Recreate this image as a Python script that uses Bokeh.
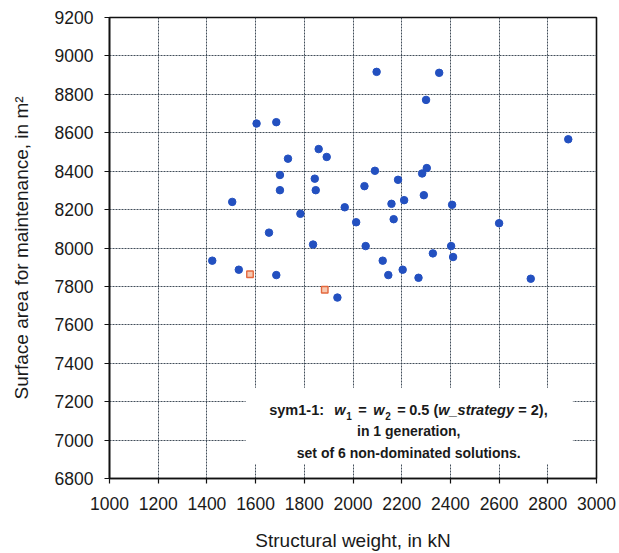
from bokeh.plotting import figure
from bokeh.models import FixedTicker, Label, BoxAnnotation, Range1d
from bokeh.embed import file_html
from bokeh.resources import INLINE

# Candidate designs of the population: structural weight (kN) vs surface area (m^2)
weight_kn = [1604, 1685, 1859, 1892, 1733, 1700, 1843, 1700, 1847, 1504,
             1784, 1966, 2013, 1655, 1836, 1422, 1531, 1685, 1936, 2097,
             2354, 2300, 2884, 2090, 2303, 2284, 2047, 2185, 2291, 2158,
             2210, 2407, 2167, 2600, 2052, 2403, 2328, 2411, 2122, 2204,
             2145, 2269, 2730]
area_m2 = [8648, 8655, 8515, 8474, 8465, 8380, 8361, 8301, 8301, 8240,
           8178, 8212, 8134, 8080, 8018, 7934, 7887, 7859, 7742, 8917,
           8912, 8771, 8566, 8402, 8416, 8388, 8322, 8355, 8275, 8230,
           8249, 8225, 8150, 8129, 8010, 8010, 7972, 7953, 7934, 7887,
           7859, 7845, 7840]

# Highlighted solutions
nd_weight_kn = [1577, 1884]
nd_area_m2 = [7863, 7783]

x_ticks = [1000, 1200, 1400, 1600, 1800, 2000, 2200, 2400, 2600, 2800, 3000]
y_ticks = [6800, 7000, 7200, 7400, 7600, 7800, 8000, 8200, 8400, 8600, 8800, 9000, 9200]

FONT = "Liberation Sans"
INK = "#1a1a1a"

p = figure(width=619, height=553, output_backend="svg", toolbar_location=None,
           x_range=Range1d(1000, 3000), y_range=Range1d(6800, 9200),
           min_border_left=109, min_border_right=23, min_border_top=17,
           min_border_bottom=75, background_fill_color="white",
           border_fill_color="white")

p.outline_line_color = "#111111"
p.outline_line_width = 1.6

for ax, ticks in ((p.xaxis[0], x_ticks), (p.yaxis[0], y_ticks)):
    ax.ticker = FixedTicker(ticks=ticks, minor_ticks=[])
    ax.axis_line_color = "#111111"
    ax.axis_line_width = 1.6
    ax.major_tick_line_color = "#111111"
    ax.major_tick_line_width = 1.2
    ax.major_tick_out = 5
    ax.major_tick_in = 0
    ax.minor_tick_line_color = None
    ax.major_label_text_font = FONT
    ax.major_label_text_font_size = "17.5px"
    ax.major_label_text_color = INK
    ax.axis_label_text_font = FONT
    ax.axis_label_text_font_size = "19px"
    ax.axis_label_text_font_style = "normal"
    ax.axis_label_text_color = INK

p.xaxis.axis_label = "Structural weight, in kN"
p.yaxis.axis_label = "Surface area for maintenance, in m\u00b2"
p.xaxis.major_label_standoff = 13
p.yaxis.major_label_standoff = 11
p.xaxis.axis_label_standoff = 17
p.yaxis.axis_label_standoff = 20

p.grid.grid_line_color = "#2e3b48"
p.grid.grid_line_width = 1
p.grid.grid_line_dash = "2 1"
p.grid.grid_line_alpha = 0.9

p.scatter(weight_kn, area_m2, marker="circle", size=7.5,
          fill_color="#2350c0", line_color="#2350c0")
p.scatter(nd_weight_kn, nd_area_m2, marker="square", size=6.5,
          fill_color="#f7c8b0", line_color="#e4683e", line_width=1.4)

# White panel behind the caption
p.add_layout(BoxAnnotation(left=1559, right=2903, bottom=6876, top=7273,
                           fill_color="white", fill_alpha=1.0,
                           line_alpha=0, level="annotation"))

# First caption line, built from pieces (italic symbols and subscripts)
line1_x, line1_y = 1656, 7158
pieces = [
    ("sym1-1:", "bold", 0, 0, "14.5px"),
    ("w", "bold italic", 65, 0, "14.5px"),
    ("1", "bold", 77, -6, "10px"),
    ("=", "bold", 89, 0, "14.5px"),
    ("w", "bold italic", 104, 0, "14.5px"),
    ("2", "bold", 116, -6, "10px"),
    ("=", "bold", 128, 0, "14.5px"),
    ("0.5 (", "bold", 140, 0, "14.5px"),
    ("w_strategy", "bold italic", 169, 0, "14.5px"),
    ("= 2),", "bold", 249, 0, "14.5px"),
]
for txt, style, dx, dy, size in pieces:
    p.add_layout(Label(x=line1_x, y=line1_y, x_offset=dx, y_offset=dy, text=txt,
                       text_font=FONT, text_font_style=style, text_font_size=size,
                       text_color=INK, text_align="left",
                       text_baseline="alphabetic"))

for txt, yy in (("in 1 generation,", 7045), ("set of 6 non-dominated solutions.", 6933)):
    p.add_layout(Label(x=2229, y=yy, text=txt, text_font=FONT,
                       text_font_style="bold", text_font_size="14px",
                       text_color=INK, text_align="center",
                       text_baseline="alphabetic"))

open("out.html", "w").write(file_html(p, INLINE))
